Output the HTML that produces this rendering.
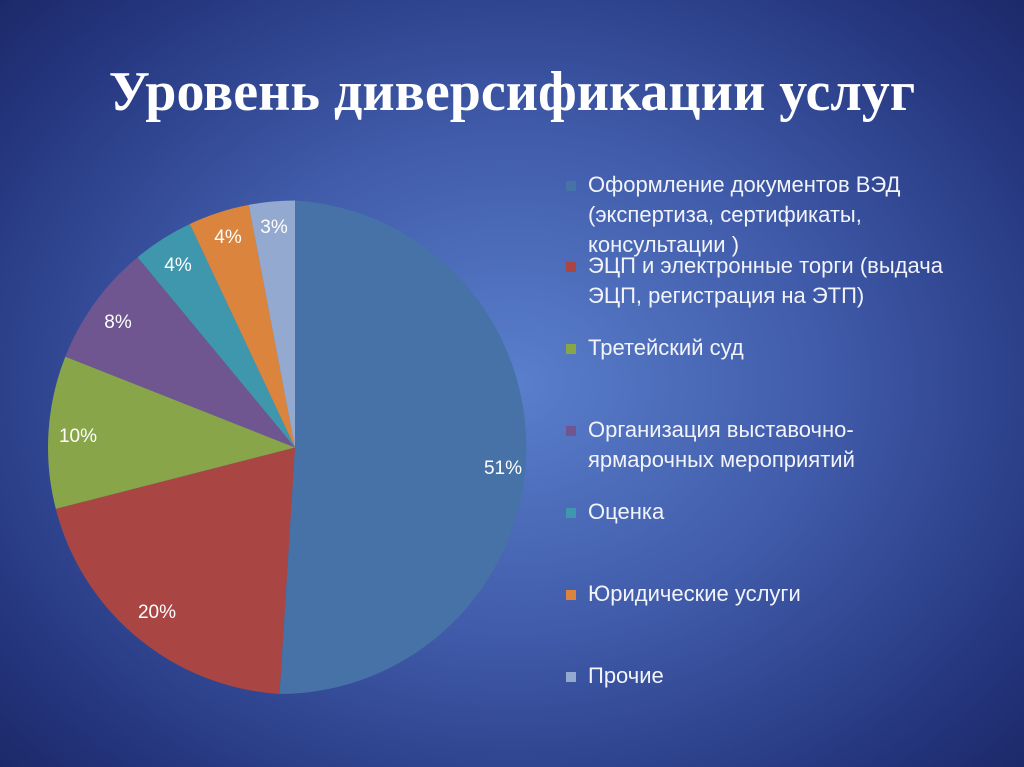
<!DOCTYPE html>
<html><head><meta charset="utf-8"><style>
html,body{margin:0;padding:0}
body{width:1024px;height:767px;overflow:hidden;position:relative;
background:radial-gradient(ellipse 70% 75% at 50% 50%, #5a7fcc 0%, #3f5aa8 45%, #263780 80%, #1b2766 100%);
font-family:"Liberation Sans","DejaVu Sans",sans-serif;}
h1{position:absolute;left:0;width:1024px;top:60px;margin:0;text-align:center;color:#fff;
font-family:"Liberation Serif",serif;font-weight:bold;font-size:56px;}
.lg{position:absolute;left:588px;color:#f2f4fa;font-size:22px;line-height:30px;white-space:nowrap;}
.sq{position:absolute;left:566px;width:10px;height:10px;}
.pl{position:absolute;color:#fff;font-size:19px;transform:translate(-50%,-50%);}
</style></head><body>
<h1>Уровень диверсификации услуг</h1>
<svg width="1024" height="767" style="position:absolute;left:0;top:0">
<g>
<path d="M295,447.5 L295,200.5 A247,247 0 0 1 279.5,694 Z" fill="#4672a8"/>
<path d="M295,447.5 L279.5,694 A247,247 0 0 1 55.8,508.9 Z" fill="#a94643"/>
<path d="M295,447.5 L55.8,508.9 A247,247 0 0 1 65.3,356.6 Z" fill="#88a54a"/>
<path d="M295,447.5 L65.3,356.6 A247,247 0 0 1 137.6,257.2 Z" fill="#6f5690"/>
<path d="M295,447.5 L137.6,257.2 A247,247 0 0 1 189.8,224 Z" fill="#3f97ae"/>
<path d="M295,447.5 L189.8,224 A247,247 0 0 1 248.7,204.9 Z" fill="#db843d"/>
<path d="M295,447.5 L248.7,204.9 A247,247 0 0 1 295,200.5 Z" fill="#94a9cf"/>
</g></svg>
<div class="pl" style="left:503px;top:469px">51%</div>
<div class="pl" style="left:157px;top:613px">20%</div>
<div class="pl" style="left:78px;top:437px">10%</div>
<div class="pl" style="left:118px;top:323px">8%</div>
<div class="pl" style="left:178px;top:266px">4%</div>
<div class="pl" style="left:228px;top:238px">4%</div>
<div class="pl" style="left:274px;top:228px">3%</div>

<div class="sq" style="top:181px;background:#4672a8"></div>
<div class="lg" style="top:170px">Оформление документов ВЭД<br>(экспертиза, сертификаты,<br>консультации )</div>
<div class="sq" style="top:262px;background:#a94643"></div>
<div class="lg" style="top:251px">ЭЦП и электронные торги (выдача<br>ЭЦП, регистрация на ЭТП)</div>
<div class="sq" style="top:344px;background:#88a54a"></div>
<div class="lg" style="top:333px">Третейский суд</div>
<div class="sq" style="top:426px;background:#6f5690"></div>
<div class="lg" style="top:415px">Организация выставочно-<br>ярмарочных мероприятий</div>
<div class="sq" style="top:508px;background:#3f97ae"></div>
<div class="lg" style="top:497px">Оценка</div>
<div class="sq" style="top:590px;background:#db843d"></div>
<div class="lg" style="top:579px">Юридические услуги</div>
<div class="sq" style="top:672px;background:#94a9cf"></div>
<div class="lg" style="top:661px">Прочие</div>
</body></html>
